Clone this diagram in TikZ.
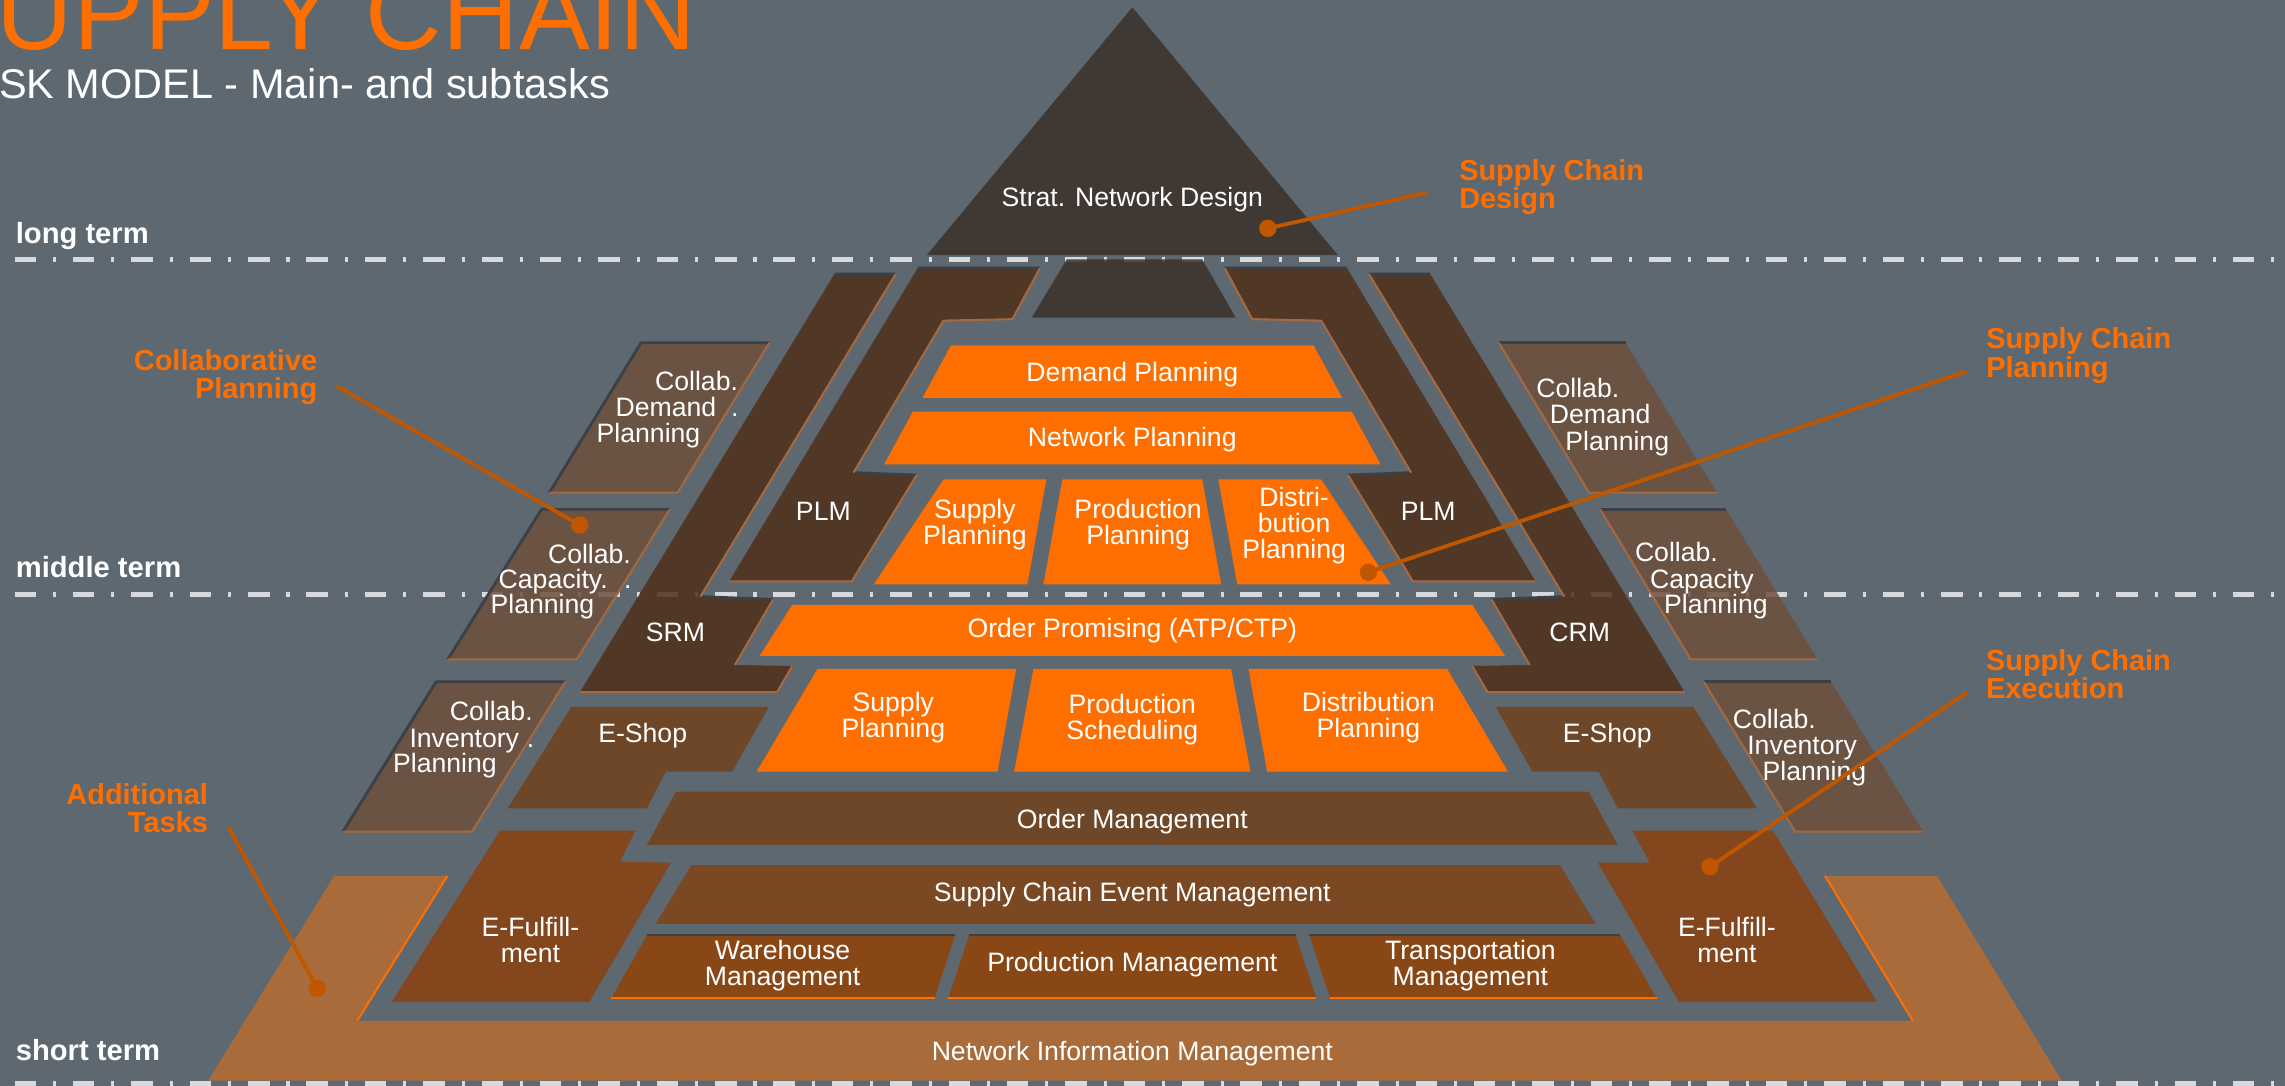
\documentclass[tikz,border=0pt]{standalone}
\usepackage{fontspec}
\setmainfont{Liberation Sans}
\usetikzlibrary{positioning}

\definecolor{slate}{RGB}{93,104,113}
\definecolor{apexbrown}{RGB}{60,48,39}
\definecolor{stripbrown}{RGB}{78,47,26}
\definecolor{collabbrown}{RGB}{110,80,60}
\definecolor{planorange}{RGB}{255,111,0}
\definecolor{shopbrown}{RGB}{110,70,40}
\definecolor{eventbrown}{RGB}{122,72,34}
\definecolor{fulfilbrown}{RGB}{132,70,28}
\definecolor{mgmtbrown}{RGB}{138,71,22}
\definecolor{bandbrown}{RGB}{169,107,57}
\definecolor{ccall}{RGB}{192,86,0}
\definecolor{dashgray}{RGB}{214,217,222}
\definecolor{rimc}{RGB}{166,104,62}
\definecolor{rimd}{RGB}{58,64,70}

\newcommand{\lblsize}{\fontsize{10.4}{10.2}\selectfont}
\newcommand{\termsize}{\fontsize{11.4}{12}\selectfont\bfseries}
\newcommand{\callsize}{\fontsize{11.3}{11.1}\selectfont\bfseries}

\tikzstyle{apex}=[fill=apexbrown,fill opacity=0.85]
\tikzstyle{strip}=[fill=stripbrown,fill opacity=0.85]
\tikzstyle{collab}=[fill=collabbrown,fill opacity=0.85]
\tikzstyle{plan}=[fill=planorange]
\tikzstyle{shop}=[fill=shopbrown]
\tikzstyle{event}=[fill=eventbrown]
\tikzstyle{fulfil}=[fill=fulfilbrown]
\tikzstyle{mgmt}=[fill=mgmtbrown]
\tikzstyle{infoband}=[fill=bandbrown]
\tikzstyle{edgeglow}=[draw=planorange,line width=0.8pt]
\tikzstyle{rimcopper}=[draw=rimc,line width=0.8pt,line join=round]
\tikzstyle{rimdark}=[draw=rimd,line width=1.1pt,line join=round]
\tikzstyle{lbl}=[text=white,inner sep=0pt,align=center,font=\lblsize]
\tikzstyle{term}=[text=white,inner sep=0pt,anchor=base west,font=\termsize]
\tikzstyle{calltext}=[text=planorange,inner sep=0pt,font=\callsize]
\tikzstyle{callline}=[draw=ccall,line width=1.5pt]
\tikzstyle{termline}=[draw=dashgray,line width=2.1pt,
                      dash pattern=on 8.4pt off 6.6pt on 1.2pt off 6.6pt]

\begin{document}
\begin{tikzpicture}[x=0.02cm,y=-0.02cm]
\useasboundingbox (0,0) rectangle (1568,745);
\fill[slate] (0,0) rectangle (1568,745);

% heading
\node[text=planorange,inner sep=0pt,anchor=base west,font=\fontsize{41.4}{44}\selectfont] (ttl) at (-2.5,34) {UPPLY CHAIN};
\node[text=white,inner sep=0pt,anchor=base west,font=\fontsize{16.2}{18}\selectfont] (sub) at (-1,67.5) {SK MODEL - Main- and subtasks};

% time horizons
\draw[termline] (10,178) -- (1568,178);
\draw[termline] (10,408) -- (1568,408);
\draw[termline] (10,743.5) -- (1568,743.5);
\node[term] (lt) at (10.5,167) {long term};
\node[term] (mt) at (10.5,396) {middle term};
\node[term] (st) at (10.5,728) {short term};

% design
\fill[apex] (777,5) -- (918,175) -- (636,175) -- cycle;
\fill[apex] (732,178) -- (825,178) -- (848,218) -- (708,218) -- cycle;
\node[lbl] (snd) at (777,137) {Strat. Network Design};

% SRM / CRM and PLM strips
\fill[strip] (572.6,188) -- (614.6,188) -- (480.6,409.4) -- (530.5,411.3) -- (504.3,456.3)
  -- (543.7,457) -- (533.2,475) -- (397.9,475) -- cycle;
\fill[strip] (981.4,188) -- (939.4,188) -- (1073.4,409.4) -- (1023.5,411.3) -- (1049.7,456.3)
  -- (1010.3,457) -- (1020.8,475) -- (1156.1,475) -- cycle;
\fill[strip] (629.7,184) -- (713.6,184) -- (694.7,219) -- (647.4,220) -- (585.7,324.3)
  -- (629,326) -- (584.4,399) -- (500.3,399) -- cycle;
\fill[strip] (924.3,184) -- (840.4,184) -- (859.3,219) -- (906.6,220) -- (968.3,324.3)
  -- (925,326) -- (969.6,399) -- (1053.7,399) -- cycle;
\draw[rimdark] (572.6,188) -- (614.6,188) (480.6,409.4) -- (530.5,411.3)
  (981.4,188) -- (939.4,188) (1073.4,409.4) -- (1023.5,411.3)
  (629.7,184) -- (713.6,184) (585.7,324.3) -- (629,326)
  (924.3,184) -- (840.4,184) (968.3,324.3) -- (925,326);
\draw[rimcopper] (614.6,188) -- (480.6,409.4) (530.5,411.3) -- (504.3,456.3)
  (543.7,457) -- (533.2,475) -- (397.9,475);
\draw[rimcopper] (939.4,188) -- (1073.4,409.4) (1023.5,411.3) -- (1049.7,456.3)
  (1010.3,457) -- (1020.8,475) -- (1156.1,475);
\draw[rimcopper] (713.6,184) -- (694.7,219) -- (647.4,220) -- (585.7,324.3)
  (629,326) -- (584.4,399) -- (500.3,399);
\draw[rimcopper] (840.4,184) -- (859.3,219) -- (906.6,220) -- (968.3,324.3)
  (925,326) -- (969.6,399) -- (1053.7,399);
\node[lbl] (plml) at (565,351) {PLM};
\node[lbl] (plmr) at (980,351) {PLM};
\node[lbl] (srm) at (463.5,434) {SRM};
\node[lbl] (crm) at (1084,434) {CRM};

% collaborative boxes, left
\fill[collab] (439.9,235.2) -- (527.9,235.2) -- (464.9,338.1) -- (376.9,338.1) -- cycle;
\fill[collab] (371.6,349.5) -- (459.6,349.5) -- (395.8,452.4) -- (307.3,452.4) -- cycle;
\fill[collab] (299.3,467.8) -- (387.9,467.8) -- (323.8,570.7) -- (235.3,570.7) -- cycle;
\draw[rimdark] (376.9,338.1) -- (439.9,235.2) -- (527.9,235.2)
  (307.3,452.4) -- (371.6,349.5) -- (459.6,349.5)
  (235.3,570.7) -- (299.3,467.8) -- (387.9,467.8);
\draw[rimcopper] (527.9,235.2) -- (464.9,338.1) -- (376.9,338.1)
  (459.6,349.5) -- (395.8,452.4) -- (307.3,452.4)
  (387.9,467.8) -- (323.8,570.7) -- (235.3,570.7);
\node[lbl,anchor=base] (cd1) at (478,267.7) {Collab.};
\node[lbl,anchor=base] (cd2) at (457,285.7) {Demand};
\node[lbl,right=5.4pt of cd2.base east,anchor=base west] (cd3) {.};
\node[lbl,anchor=base] (cd4) at (445,303.7) {Planning};
\node[lbl,anchor=base] (cc1) at (404.5,386.4) {Collab.};
\node[lbl,anchor=base] (cc2) at (379.6,403.6) {Capacity.};
\node[lbl,right=6pt of cc2.base east,anchor=base west] (cc3) {.};
\node[lbl,anchor=base] (cc4) at (372.2,421.2) {Planning};
\node[lbl,anchor=base] (ci1) at (337.1,494.4) {Collab.};
\node[lbl,anchor=base] (ci2) at (318.6,512.6) {Inventory};
\node[lbl,right=2.7pt of ci2.base east,anchor=base west] (ci3) {.};
\node[lbl,anchor=base] (ci4) at (305.3,530) {Planning};

% collaborative boxes, right
\fill[collab] (1028.5,235.2) -- (1115.5,235.2) -- (1178.3,338.1) -- (1090.4,338.1) -- cycle;
\fill[collab] (1098.1,349.5) -- (1184.5,349.5) -- (1247.2,452.4) -- (1160.1,452.4) -- cycle;
\fill[collab] (1169.1,467.8) -- (1256.5,467.8) -- (1319.7,570.7) -- (1231.9,570.7) -- cycle;
\draw[rimdark] (1028.5,235.2) -- (1115.5,235.2) (1098.1,349.5) -- (1184.5,349.5)
  (1169.1,467.8) -- (1256.5,467.8);
\draw[rimcopper] (1028.5,235.2) -- (1090.4,338.1) -- (1178.3,338.1)
  (1098.1,349.5) -- (1160.1,452.4) -- (1247.2,452.4)
  (1169.1,467.8) -- (1231.9,570.7) -- (1319.7,570.7);
\node[lbl,anchor=base] (rd1) at (1082.7,272.6) {Collab.};
\node[lbl,anchor=base] (rd2) at (1098.1,290.7) {Demand};
\node[lbl,anchor=base] (rd3) at (1109.8,308.8) {Planning};
\node[lbl,anchor=base] (rc1) at (1150.4,385.3) {Collab.};
\node[lbl,anchor=base] (rc2) at (1167.8,403.6) {Capacity};
\node[lbl,anchor=base] (rc3) at (1177.5,421.2) {Planning};
\node[lbl,anchor=base] (ri1) at (1217.6,499.6) {Collab.};
\node[lbl,anchor=base] (ri2) at (1236.6,517.9) {Inventory};
\node[lbl,anchor=base] (ri3) at (1245.1,535.6) {Planning};

% planning
\fill[plan] (652.6,237) -- (901.4,237) -- (921,273) -- (633,273) -- cycle;
\fill[plan] (626.4,282.5) -- (927.6,282.5) -- (947.3,318.6) -- (606.7,318.6) -- cycle;
\fill[plan] (647.4,329) -- (718,329) -- (705,401) -- (599.6,401) -- cycle;
\fill[plan] (729,329) -- (825,329) -- (838,401) -- (716,401) -- cycle;
\fill[plan] (836,329) -- (906.6,329) -- (954.4,401) -- (849,401) -- cycle;
\node[lbl] (dp) at (777,257) {Demand Planning};
\node[lbl] (np) at (777,302) {Network Planning};
\node[lbl] (sp1) at (669,360) {Supply\\Planning};
\node[lbl] (pp) at (781,360) {Production\\Planning};
\node[lbl] (dsp1) at (888,360.5) {Distri-\\bution\\Planning};

% execution
\fill[plan] (543.7,415) -- (1010.3,415) -- (1032.7,450) -- (521.3,450) -- cycle;
\fill[plan] (561,459) -- (697.3,459) -- (684.5,529.5) -- (519.2,529.5) -- cycle;
\fill[plan] (709.2,459) -- (844.8,459) -- (858.1,529.5) -- (695.9,529.5) -- cycle;
\fill[plan] (856.7,459) -- (993,459) -- (1034.8,529.5) -- (869.5,529.5) -- cycle;
\node[lbl] (op) at (777,433) {Order Promising (ATP/CTP)};
\node[lbl] (sp2) at (613,492.5) {Supply\\Planning};
\node[lbl] (ps) at (777,493.5) {Production\\Scheduling};
\node[lbl] (dsp2) at (939,492.5) {Distribution\\Planning};

\fill[shop] (392.1,485) -- (527.6,485) -- (502.4,529.5) -- (456.9,529.5) -- (443.9,554.7) -- (348.4,554.7) -- cycle;
\fill[shop] (1161.9,485) -- (1026.4,485) -- (1051.6,529.5) -- (1097.1,529.5) -- (1110.1,554.7) -- (1205.6,554.7) -- cycle;
\fill[shop] (463.9,543.2) -- (1090.1,543.2) -- (1110.1,579.8) -- (443.9,579.8) -- cycle;
\node[lbl] (esl) at (441,505) {E-Shop};
\node[lbl] (esr) at (1103,505) {E-Shop};
\node[lbl] (om) at (777,564) {Order Management};

\fill[event] (474.4,593.6) -- (1070.4,593.6) -- (1095,634) -- (449.9,634) -- cycle;
\node[lbl] (scem) at (777,614) {Supply Chain Event Management};

\fill[fulfil] (343.1,570) -- (435.9,570) -- (425.4,591.3) -- (460.4,592) -- (404.4,687.4) -- (268.9,687.4) -- cycle;
\fill[fulfil] (1120.2,570) -- (1216.6,570) -- (1287.9,687.4) -- (1152.1,687.4) -- (1096.5,592) -- (1132.1,592) -- cycle;
\node[lbl] (efl) at (364,645) {E-Fulfill-\\ment};
\node[lbl] (efr) at (1185,645) {E-Fulfill-\\ment};

\fill[mgmt] (444,641.6) -- (655.5,641.6) -- (641.3,685) -- (419.5,685) -- cycle;
\fill[mgmt] (665,641.6) -- (889,641.6) -- (903.3,685) -- (650.7,685) -- cycle;
\fill[mgmt] (898.5,641.6) -- (1111.7,641.6) -- (1136.8,685) -- (912.7,685) -- cycle;
\draw[rimdark] (444,641.6) -- (655.5,641.6) (665,641.6) -- (889,641.6) (898.5,641.6) -- (1111.7,641.6);
\draw[edgeglow,line width=0.6pt] (419.5,685) -- (641.3,685) (650.7,685) -- (903.3,685) (912.7,685) -- (1136.8,685);
\node[lbl] (wm) at (537,662.5) {Warehouse\\Management};
\node[lbl] (pm) at (777,662) {Production Management};
\node[lbl] (tm) at (1009,662.5) {Transportation\\Management};

% additional tasks
\fill[infoband] (229.3,601) -- (307,601) -- (245.1,700.5) -- (1312.6,700.5) -- (1252.3,601)
  -- (1329.2,601) -- (1414.7,741.5) -- (142.9,741.5) -- cycle;
\draw[edgeglow] (307,601) -- (245.1,700.5);
\draw[edgeglow] (1252.3,601) -- (1312.6,700.5);
\node[lbl] (nim) at (777,723) {Network Information Management};

% callouts
\node[calltext,anchor=north west,align=left] (c1) at (1001,109) {Supply Chain\\Design};
\node[calltext,anchor=north west,align=left] (c2) at (1362.7,224.5) {Supply Chain\\Planning};
\node[calltext,anchor=north west,align=left] (c3) at (1362.5,445.3) {Supply Chain\\Execution};
\node[calltext,anchor=north east,align=right] (c4) at (218,239.5) {Collaborative\\Planning};
\node[calltext,anchor=north east,align=right] (c5) at (143,537.2) {Additional\\Tasks};

\coordinate (d1) at (870,156.7);
\coordinate (e1) at (979.5,132);
\coordinate (d2) at (939,392.7);
\coordinate (e2) at (1349.1,255);
\coordinate (d3) at (1173.4,594.7);
\coordinate (e3) at (1349.6,475.3);
\coordinate (d4) at (397.9,360.3);
\coordinate (e4) at (231,265);
\coordinate (d5) at (217.8,678.2);
\coordinate (e5) at (156.8,567.7);

\draw[callline] (d1) -- (e1);
\draw[callline] (d2) -- (e2);
\draw[callline] (d3) -- (e3);
\draw[callline] (d4) -- (e4);
\draw[callline] (d5) -- (e5);
\fill[ccall] (d1) circle (3.4pt) (d2) circle (3.4pt) (d3) circle (3.4pt)
  (d4) circle (3.4pt) (d5) circle (3.4pt);
\end{tikzpicture}
\end{document}
